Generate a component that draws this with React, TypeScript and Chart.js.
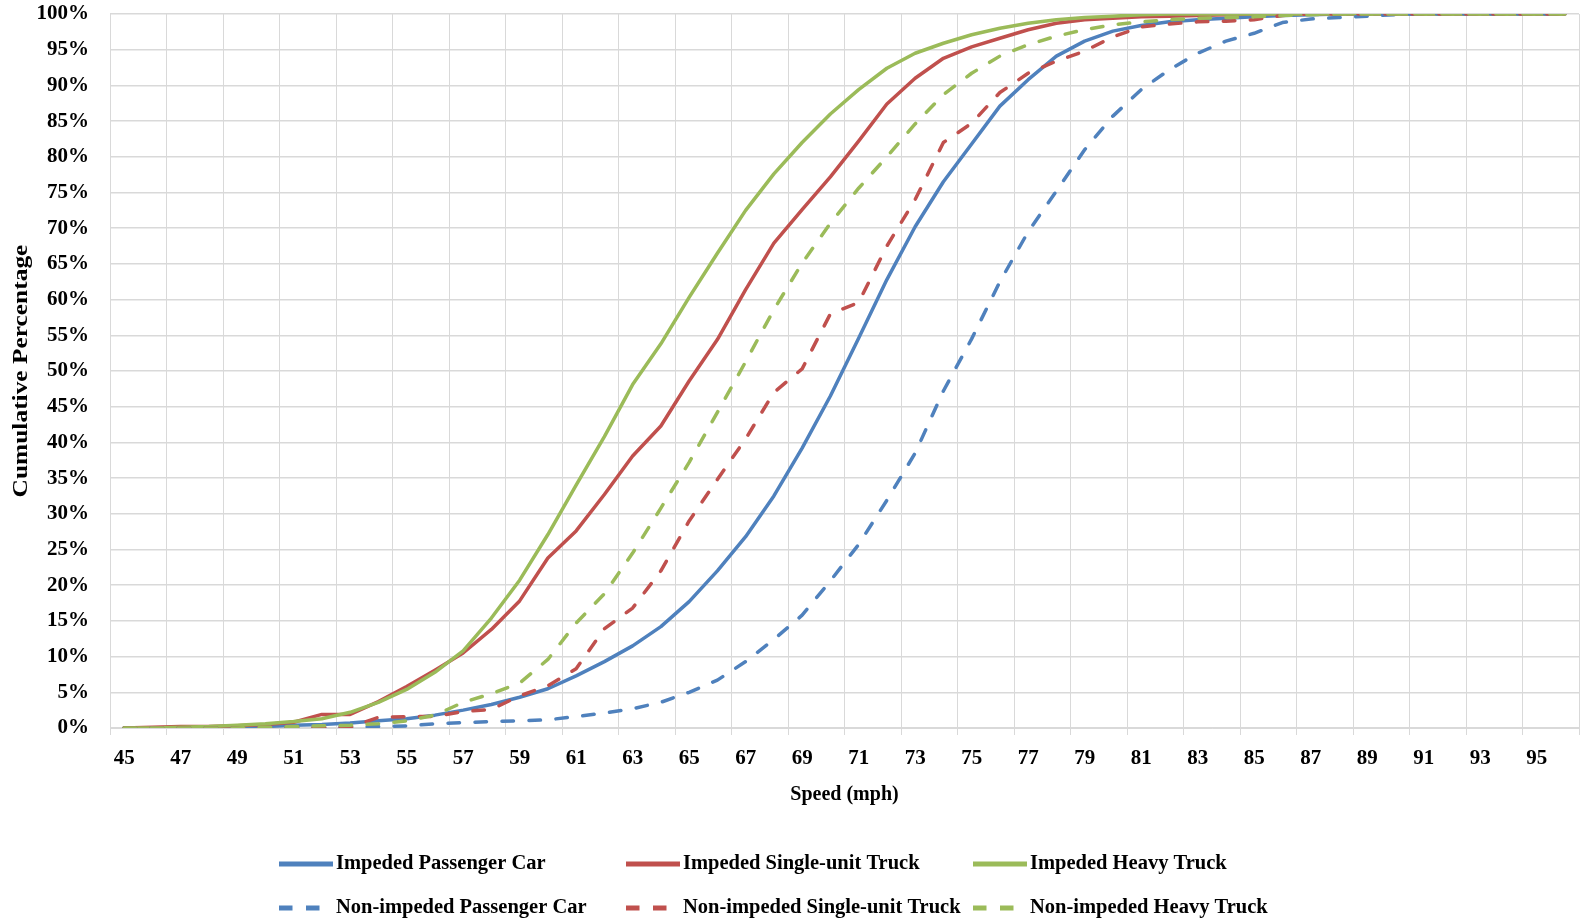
import React, { useEffect, useRef } from "react";
import { Chart, registerables } from "chart.js";

Chart.register(...registerables);

// Speed categories (mph)
const speeds = [
  45, 46, 47, 48, 49, 50, 51, 52, 53, 54, 55, 56, 57, 58, 59, 60, 61, 62, 63, 64,
  65, 66, 67, 68, 69, 70, 71, 72, 73, 74, 75, 76, 77, 78, 79, 80, 81, 82, 83, 84,
  85, 86, 87, 88, 89, 90, 91, 92, 93, 94, 95, 96,
];

// Cumulative percentage by speed
const impededPassengerCar = [
  0, 0, 0, 0.05, 0.1, 0.2, 0.4, 0.5, 0.7, 1.0,
  1.3, 1.8, 2.5, 3.3, 4.3, 5.5, 7.3, 9.3, 11.5, 14.2,
  17.7, 22.0, 26.8, 32.5, 39.2, 46.5, 54.6, 62.8, 70.2, 76.5,
  81.8, 87.1, 90.8, 94.1, 96.2, 97.6, 98.4, 98.9, 99.2, 99.4,
  99.6, 99.8, 99.9, 100, 100, 100, 100, 100, 100, 100, 100, 100,
];
const impededSingleUnitTruck = [
  0, 0.1, 0.2, 0.2, 0.3, 0.5, 0.8, 1.9, 1.9, 3.7,
  5.8, 8.1, 10.5, 13.8, 17.8, 23.8, 27.6, 32.7, 38.1, 42.3,
  48.6, 54.4, 61.4, 67.9, 72.6, 77.2, 82.2, 87.4, 91.0, 93.8,
  95.4, 96.6, 97.8, 98.7, 99.2, 99.4, 99.6, 99.7, 99.8, 99.9,
  100, 100, 100, 100, 100, 100, 100, 100, 100, 100, 100, 100,
];
const impededHeavyTruck = [
  0, 0, 0.1, 0.2, 0.4, 0.6, 0.9, 1.3, 2.2, 3.6,
  5.4, 7.8, 10.8, 15.4, 20.7, 27.1, 34.0, 40.8, 48.1, 53.8,
  60.3, 66.5, 72.5, 77.6, 82.0, 86.0, 89.4, 92.4, 94.5, 95.9,
  97.1, 98.0, 98.7, 99.2, 99.5, 99.7, 99.9, 100, 100, 100,
  100, 100, 100, 100, 100, 100, 100, 100, 100, 100, 100, 100,
];
const nonImpededPassengerCar = [
  0, 0, 0, 0, 0, 0.05, 0.1, 0.1, 0.15, 0.2,
  0.3, 0.6, 0.75, 0.9, 1.0, 1.15, 1.6, 2.1, 2.7, 3.6,
  5.0, 6.7, 9.3, 12.4, 15.8, 20.6, 25.7, 31.9, 38.5, 47.2,
  54.5, 62.5, 69.5, 75.2, 81.0, 85.7, 89.4, 92.2, 94.5, 96.2,
  97.3, 98.8, 99.3, 99.5, 99.7, 99.9, 100, 100, 100, 100, 100, 100,
];
const nonImpededSingleUnitTruck = [
  0, 0, 0, 0, 0, 0, 0.05, 0.1, 0.1, 1.5,
  1.6, 1.6, 2.3, 2.6, 4.5, 5.9, 8.3, 13.9, 16.8, 22.0,
  29.0, 34.8, 40.5, 47.0, 50.3, 58.0, 59.6, 67.5, 74.0, 82.0,
  84.7, 89.0, 91.7, 93.4, 94.8, 96.8, 98.2, 98.6, 98.9, 99.0,
  99.2, 99.8, 100, 100, 100, 100, 100, 100, 100, 100, 100, 100,
];
const nonImpededHeavyTruck = [
  0, 0, 0, 0, 0, 0.1, 0.2, 0.3, 0.4, 0.6,
  1.0, 1.8, 3.6, 4.8, 6.3, 9.6, 14.7, 18.8, 24.5, 30.8,
  37.2, 44.2, 51.3, 58.6, 65.1, 70.7, 75.6, 80.0, 84.6, 88.7,
  91.7, 94.1, 95.7, 96.9, 97.8, 98.5, 98.9, 99.2, 99.4, 99.5,
  99.6, 99.8, 99.9, 100, 100, 100, 100, 100, 100, 100, 100, 100,
];

const seriesNames = [
  "Impeded Passenger Car",
  "Impeded Single-unit Truck",
  "Impeded Heavy Truck",
  "Non-impeded Passenger Car",
  "Non-impeded Single-unit Truck",
  "Non-impeded Heavy Truck",
];
const seriesValues = [
  impededPassengerCar,
  impededSingleUnitTruck,
  impededHeavyTruck,
  nonImpededPassengerCar,
  nonImpededSingleUnitTruck,
  nonImpededHeavyTruck,
];
const seriesColors = ["#4F81BD", "#C0504D", "#9BBB59", "#4F81BD", "#C0504D", "#9BBB59"];
const seriesDashed = [false, false, false, true, true, true];

const yTitle = "Cumulative Percentage";
const xTitle = "Speed (mph)";

const FONT = '"Liberation Serif", "Times New Roman", serif';
const GRID = "#d9d9d9";
const LINE_DASH = [11.5, 15.5];

// Axis titles and the two-row legend below the plot
const decorPlugin = {
  id: "decor",
  afterDraw(chart: any) {
    const { ctx, chartArea } = chart;
    ctx.save();
    ctx.fillStyle = "#000";

    // rotated y-axis title
    ctx.save();
    ctx.translate(22, (chartArea.top + chartArea.bottom) / 2);
    ctx.rotate(-Math.PI / 2);
    ctx.scale(1.27, 1);
    ctx.font = `bold 20px ${FONT}`;
    ctx.textAlign = "center";
    ctx.textBaseline = "middle";
    ctx.fillText(yTitle, 0, 0);
    ctx.restore();

    // x-axis title
    ctx.font = `bold 20px ${FONT}`;
    ctx.textAlign = "center";
    ctx.textBaseline = "middle";
    ctx.fillText(xTitle, (chartArea.left + chartArea.right) / 2, chartArea.bottom + 67);

    // legend: three columns, two rows
    const left0 = 279;
    const colW = 347;
    const rowY = [chartArea.bottom + 136, chartArea.bottom + 180];
    chart.data.datasets.forEach((ds: any, i: number) => {
      const x = left0 + (i % 3) * colW;
      const y = rowY[Math.floor(i / 3)];
      ctx.save();
      ctx.strokeStyle = ds.borderColor;
      ctx.lineWidth = 5;
      ctx.lineCap = "butt";
      ctx.setLineDash(ds.borderDash && ds.borderDash.length ? [13.5, 13.5] : []);
      ctx.beginPath();
      ctx.moveTo(x, y);
      ctx.lineTo(x + 54, y);
      ctx.stroke();
      ctx.restore();
      ctx.font = `bold 20.5px ${FONT}`;
      ctx.textAlign = "left";
      ctx.textBaseline = "middle";
      ctx.fillStyle = "#000";
      ctx.fillText(ds.label, x + 57, y);
    });
    ctx.restore();
  },
};

export default function App() {
  const canvasRef = useRef<HTMLCanvasElement>(null);

  useEffect(() => {
    const canvas = canvasRef.current;
    if (!canvas) return;

    const datasets = seriesNames.map((name, i) => ({
      label: name,
      data: seriesValues[i],
      borderColor: seriesColors[i],
      backgroundColor: seriesColors[i],
      borderWidth: 3.5,
      borderDash: seriesDashed[i] ? LINE_DASH : [],
      borderCapStyle: "round" as const,
      borderJoinStyle: "round" as const,
      pointRadius: 0,
      pointHoverRadius: 0,
      tension: 0,
      fill: false,
      order: seriesNames.length - i,
    }));

    const chart = new Chart(canvas, {
      type: "line",
      data: { labels: speeds.map(String), datasets },
      options: {
        animation: false,
        responsive: false,
        maintainAspectRatio: false,
        layout: { padding: { top: 14, right: 6, bottom: 0, left: 0 } },
        plugins: {
          legend: { display: false },
          tooltip: { enabled: false },
        },
        scales: {
          x: {
            type: "category",
            offset: true,
            grid: {
              offset: true,
              drawTicks: true,
              tickLength: 7,
              lineWidth: 1,
              color: (c: any) =>
                c.type === "tick" ? (c.index % 2 === 0 ? GRID : "rgba(0,0,0,0)") : GRID,
            },
            border: { display: true, color: GRID, width: 1 },
            ticks: {
              autoSkip: false,
              maxRotation: 0,
              minRotation: 0,
              padding: 11,
              color: "#000",
              font: { family: FONT, size: 21, weight: "bold" },
              callback: (_v: any, i: number) => (i % 2 === 0 ? String(speeds[i]) : ""),
            },
            afterFit: (scale: any) => {
              scale.height = 196;
              scale.paddingLeft = 0;
              scale.paddingRight = 0;
            },
          },
          y: {
            min: 0,
            max: 100,
            grid: { color: GRID, lineWidth: 1.5, drawTicks: false },
            border: { display: false },
            ticks: {
              stepSize: 5,
              padding: 21,
              color: "#000",
              font: { family: FONT, size: 21, weight: "bold" },
              callback: (v: any) => `${v}%`,
            },
            afterFit: (scale: any) => {
              scale.width = 110;
              scale.paddingTop = 0;
              scale.paddingBottom = 0;
            },
          },
        },
      },
      plugins: [decorPlugin],
    });

    return () => chart.destroy();
  }, []);

  return (
    <div
      style={{
        position: "absolute",
        left: 0,
        top: 0,
        width: 1585,
        height: 924,
        background: "#fff",
      }}
    >
      <canvas ref={canvasRef} width={1585} height={924} style={{ display: "block" }} />
    </div>
  );
}
